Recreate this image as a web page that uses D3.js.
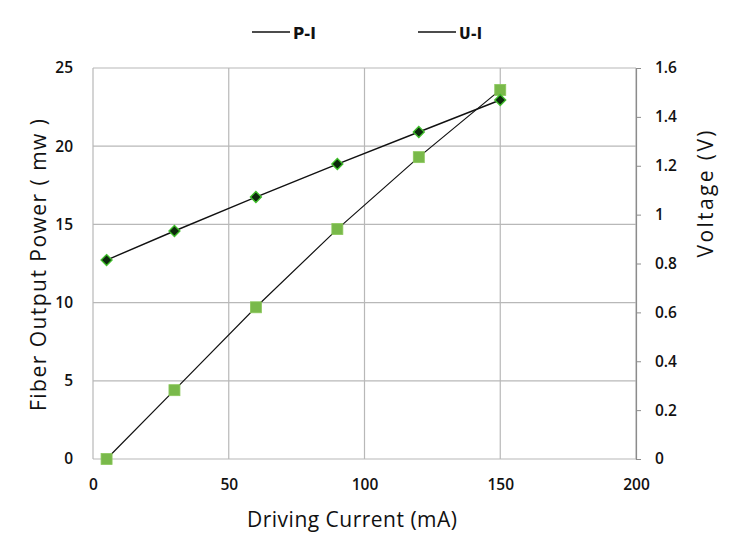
<!DOCTYPE html>
<html>
<head>
<meta charset="utf-8">
<script src="https://cdn.jsdelivr.net/npm/d3@7"></script>
<style>
  body { margin: 0; background: #fff; }
  svg { display: block; }
</style>
</head>
<body>
<svg id="chart" width="731" height="548" viewBox="0 0 731 548"></svg>
<script>
// --- data ---
const current = [5, 30, 60, 90, 120, 150];              // mA
const power = [0, 4.4, 9.7, 14.7, 19.3, 23.6];            // mW (left axis)
const voltage = [0.814, 0.933, 1.072, 1.207, 1.338, 1.469]; // V (right axis)
const xTicks = [0, 50, 100, 150, 200];
const yLeftTicks = [0, 5, 10, 15, 20, 25];
const yRightTicks = [0, 0.2, 0.4, 0.6, 0.8, 1, 1.2, 1.4, 1.6];
const legendLabels = ["P-I", "U-I"];

const svg = d3.select("#chart");
const plot = { left: 93, right: 636, top: 68, bottom: 459 };

const tickFont = "'Open Sans', 'Noto Sans', sans-serif";
const titleFont = "'Open Sans', 'Noto Sans', sans-serif";
const gridColor = "#b8b8b8";
const ink = "#111";

const x = d3.scaleLinear().domain([0, 200]).range([plot.left, plot.right]);
const yL = d3.scaleLinear().domain([0, 25]).range([plot.bottom, plot.top]);
const yR = d3.scaleLinear().domain([0, 1.6]).range([plot.bottom, plot.top]);

// grid lines
svg.append("g").selectAll("line")
    .data(yLeftTicks).join("line")
    .attr("x1", plot.left).attr("x2", plot.right)
    .attr("y1", d => yL(d)).attr("y2", d => yL(d))
    .style("stroke", gridColor).style("stroke-width", 1.2);
svg.append("g").selectAll("line")
    .data(xTicks).join("line")
    .attr("x1", d => x(d)).attr("x2", d => x(d))
    .attr("y1", plot.top).attr("y2", plot.bottom)
    .style("stroke", gridColor).style("stroke-width", 1.2);

// left axis (labels only)
const leftAxis = svg.append("g")
    .attr("transform", `translate(${plot.left},0)`)
    .call(d3.axisLeft(yL).tickValues(yLeftTicks).tickSize(0).tickPadding(20).tickFormat(d3.format("d")));
leftAxis.select(".domain").remove();

// right axis with outward tick marks
const rightAxis = svg.append("g")
    .attr("transform", `translate(${plot.right},0)`)
    .call(d3.axisRight(yR).tickValues(yRightTicks).tickSize(5).tickPadding(14).tickFormat(d => String(+d.toFixed(1))));
rightAxis.select(".domain").style("stroke", "#8c8c8c").style("stroke-width", 1.2);
rightAxis.selectAll(".tick line").style("stroke", "#8c8c8c");

// bottom axis (labels only)
const bottomAxis = svg.append("g")
    .attr("transform", `translate(0,${plot.bottom})`)
    .call(d3.axisBottom(x).tickValues(xTicks).tickSize(0).tickPadding(20));
bottomAxis.select(".domain").remove();

svg.selectAll(".tick text")
    .style("font-family", tickFont).style("font-size", "15.5px")
    .style("font-weight", 600).style("fill", ink);

// series lines
const pLine = d3.line().x((d, i) => x(current[i])).y(d => yL(d));
const uLine = d3.line().x((d, i) => x(current[i])).y(d => yR(d));

svg.append("path").datum(power).attr("d", pLine)
    .style("fill", "none").style("stroke", ink).style("stroke-width", 1.2);
svg.append("path").datum(voltage).attr("d", uLine)
    .style("fill", "none").style("stroke", ink).style("stroke-width", 1.4);

// square markers (power)
const sq = 11;
svg.append("g").selectAll("rect")
    .data(power).join("rect")
    .attr("x", (d, i) => x(current[i]) - sq / 2)
    .attr("y", d => yL(d) - sq / 2)
    .attr("width", sq).attr("height", sq)
    .style("fill", "#79b94a").style("stroke", "#8cc85c").style("stroke-width", 0.8);

// diamond markers (voltage)
const dm = 5.5;
svg.append("g").selectAll("path")
    .data(voltage).join("path")
    .attr("d", (d, i) => {
        const cx = x(current[i]), cy = yR(d);
        return `M${cx},${cy - dm}L${cx + dm},${cy}L${cx},${cy + dm}L${cx - dm},${cy}Z`;
    })
    .style("fill", "#0d2a0d").style("stroke", "#3fbf2a").style("stroke-width", 1.3);

// legend
const legendX = [252, 418];
legendLabels.forEach((lab, i) => {
    svg.append("line")
        .attr("x1", legendX[i]).attr("x2", legendX[i] + 38)
        .attr("y1", 32).attr("y2", 32)
        .style("stroke", ink).style("stroke-width", 1.4);
    svg.append("text")
        .attr("x", legendX[i] + 41).attr("y", 39)
        .attr("textLength", 23).attr("lengthAdjust", "spacingAndGlyphs")
        .style("font-family", "'DejaVu Sans Condensed', sans-serif")
        .style("font-size", "15px").style("font-weight", 600).style("fill", ink)
        .text(lab);
});

// axis titles
svg.append("text")
    .attr("transform", "translate(46,265) rotate(-90)")
    .attr("text-anchor", "middle")
    .attr("textLength", 292).attr("lengthAdjust", "spacing")
    .style("font-family", titleFont).style("font-size", "21px").style("fill", ink)
    .text("Fiber Output Power ( mw )");

svg.append("text")
    .attr("transform", "translate(713,194) rotate(-90)")
    .attr("text-anchor", "middle")
    .attr("textLength", 127).attr("lengthAdjust", "spacing")
    .style("font-family", titleFont).style("font-size", "21px").style("fill", ink)
    .text("Voltage  (V)");

svg.append("text")
    .attr("x", 352).attr("y", 527)
    .attr("text-anchor", "middle")
    .attr("textLength", 210).attr("lengthAdjust", "spacing")
    .style("font-family", titleFont).style("font-size", "21px").style("fill", ink)
    .text("Driving Current  (mA)");
</script>
</body>
</html>
